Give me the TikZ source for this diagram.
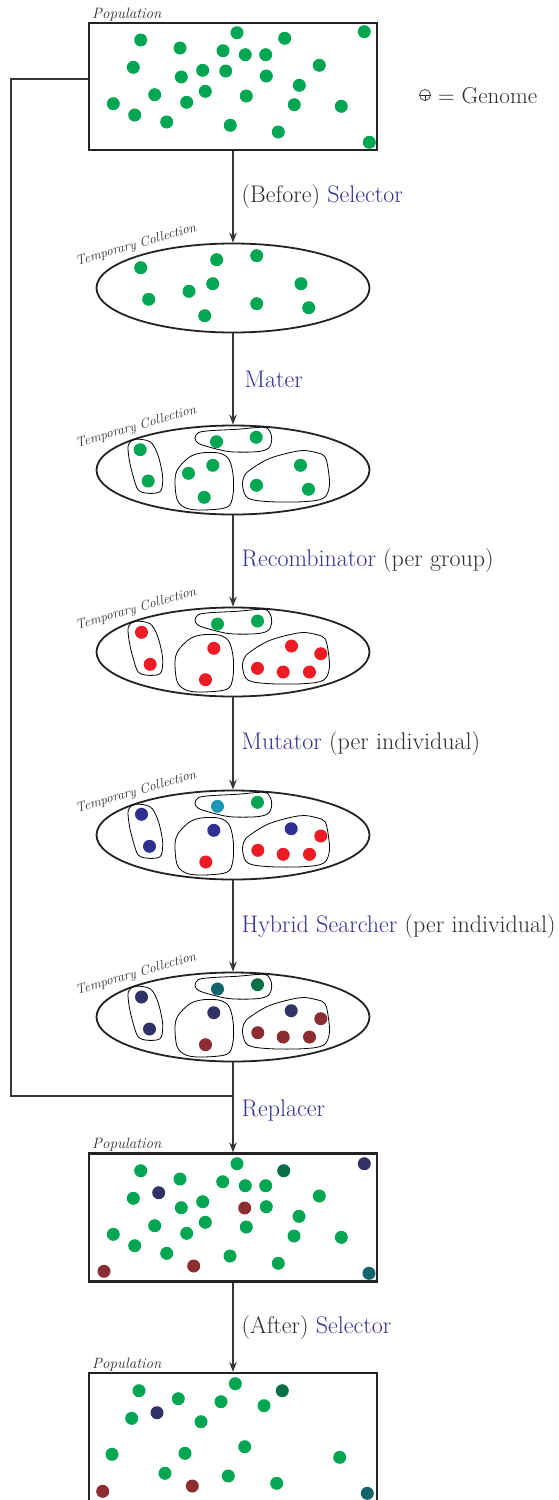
\documentclass[tikz,border=0pt]{standalone}
\usetikzlibrary{shapes.geometric,arrows.meta}

\definecolor{gr}{RGB}{0,166,81}
\definecolor{rd}{RGB}{237,28,36}
\definecolor{bl}{RGB}{46,49,146}
\definecolor{cy}{RGB}{28,150,180}
\definecolor{nv}{RGB}{50,50,105}
\definecolor{dr}{RGB}{140,45,50}
\definecolor{dt}{RGB}{20,100,110}
\definecolor{dg}{RGB}{10,110,70}
\definecolor{lbl}{RGB}{48,48,150}
\definecolor{txt}{RGB}{45,45,45}
\definecolor{edge}{RGB}{35,35,35}
\definecolor{linec}{RGB}{55,55,55}

% filled genome discs of one colour at a list of points
\newcommand\genomes[2]{\foreach \gx/\gy in {#2} \fill[#1] (\gx,\gy) circle (6.5pt);}

\begin{document}
\begin{tikzpicture}[x=1pt,y=-1pt,
  popbox/.style={draw=edge, rectangle, line width=2.2pt, minimum width=288pt, inner sep=0pt},
  tcoll/.style={draw=edge, ellipse, line width=1.8pt, minimum width=273pt, minimum height=89pt, inner sep=0pt},
  flow/.style={draw=linec, line width=1.4pt},
  arr/.style={flow, -{Stealth[length=10pt,width=7.5pt]}},
  steplabel/.style={anchor=west, inner sep=0pt, xshift=8pt, text=txt, font=\fontsize{24}{27}\selectfont},
  tag/.style={inner sep=0pt, text=txt, font=\itshape\fontsize{13.5}{14}\selectfont},
  grp/.style={draw=black, line width=0.8pt},
]
\useasboundingbox (0,0) rectangle (558,1500);
\clip (0,0) rectangle (558,1500);

% ---------- population boxes and temporary collections ----------
\node[popbox, minimum height=127pt] (pop1) at (233,86.5) {};
\node[tcoll] (tc1) at (233,288) {};
\node[tcoll] (tc2) at (233,470) {};
\node[tcoll] (tc3) at (233,652) {};
\node[tcoll] (tc4) at (233,835) {};
\node[tcoll] (tc5) at (233,1017) {};
\node[popbox, minimum height=128pt] (pop2) at (233,1217.5) {};
\node[popbox, minimum height=150pt] (pop3) at (233,1448) {};

% captions
\node[tag, anchor=base west, font=\itshape\fontsize{15}{16}\selectfont] (cap1) at (92,18) {Population};
\node[tag, anchor=base west, font=\itshape\fontsize{15}{16}\selectfont] (cap2) at (92,1148) {Population};
\node[tag, anchor=base west, font=\itshape\fontsize{15}{16}\selectfont] (cap3) at (92,1368) {Population};
\foreach \c in {1,...,5}
  \node[tag, rotate=16] (tcap\c) at ([xshift=-97pt,yshift=43pt]tc\c.center) {Temporary Collection};

% legend
\coordinate (gsym) at (425,95);
\draw[txt, line width=0.7pt] (gsym) circle (5.5pt);
\draw[txt, line width=0.7pt] ([xshift=-5.5pt]gsym) -- ([xshift=5.5pt]gsym);
\draw[txt, line width=0.7pt] (gsym) -- ([yshift=-5.5pt]gsym);
\node[anchor=west, inner sep=0pt, text=txt, font=\fontsize{23}{26}\selectfont] (genome) at (438,96) {= Genome};

% ---------- flow ----------
\draw[arr] (pop1.south) -- (tc1.north) node[midway, steplabel] {(Before) \textcolor{lbl}{Selector}};
\draw[arr] (tc1.south) -- (tc2.north) node[midway, steplabel, xshift=3pt] {\textcolor{lbl}{Mater}};
\draw[arr] (tc2.south) -- (tc3.north) node[midway, steplabel] {\textcolor{lbl}{Recombinator} (per group)};
\draw[arr] (tc3.south) -- (tc4.north) node[midway, steplabel] {\textcolor{lbl}{Mutator} (per individual)};
\draw[arr] (tc4.south) -- (tc5.north) node[midway, steplabel] {\textcolor{lbl}{Hybrid Searcher} (per individual)};
\coordinate (join) at (233,1096);
\draw[flow] ([yshift=7.5pt]pop1.west) -- ++(-77,0) |- (join);
\draw[arr] (tc5.south) -- (pop2.north) node[pos=0.53, steplabel] {\textcolor{lbl}{Replacer}};
\draw[arr] (pop2.south) -- (pop3.north) node[midway, steplabel] {(After) \textcolor{lbl}{Selector}};

% ---------- genomes: initial population ----------
\genomes{gr}{140.7/40,180/48,237/32.7,284.7/38.3,364.3/31.7,223/50.7,245.3/54.7,265.7/54.7,
  133.3/67.3,181.3/77,202.7/70.3,225.7/71,266.3/76,319.3/65.3,154.7/94.7,205.3/91.3,246.3/96,
  299.3/85.3,113.3/103.7,186.7/102.3,134.7/115,166.7/122,230.3/125.3,294.3/104.7,341.3/106.3,
  278.3/132,369.3/142.3}

% ---------- selected individuals ----------
\genomes{gr}{140.7/267.7,216.7/259.7,256.7/255.7,148.7/299.3,189/291.3,212.7/283.7,301/283.7,
  256.7/303.7,308.7/307.7,204.7/315.7}

% ---------- mating groups (same outlines in every collection) ----------
\foreach \c in {2,...,5} {
  \begin{scope}[shift={(tc\c.center)}]
    \draw[grp] plot[smooth cycle, tension=0.55] coordinates
      {(-104.7,-25) (-98,-30.7) (-83,-28.3) (-75.7,-16.7) (-71.3,0) (-70.3,11.7) (-73,21.7)
       (-84.7,23.3) (-94.7,20) (-99.7,6.7) (-103.7,-10)};
    \draw[grp] plot[smooth cycle, tension=0.55] coordinates
      {(-38,-31.7) (-34.7,-37.3) (-23,-39.3) (3.7,-40.7) (30.3,-42.7) (37,-38.3) (38.7,-30)
       (35.3,-21.7) (23.7,-18.3) (-3,-18.3) (-23,-22.7) (-34.7,-26.7)};
    \draw[grp] plot[smooth cycle, tension=0.55] coordinates
      {(-43,-13.3) (-29.7,-17.3) (-13,-16.7) (-3.7,-10) (0.3,6.7) (-0.3,26.7) (-6.3,37.3)
       (-29.7,40) (-46.3,38.3) (-55.7,30) (-58,10) (-54.7,-1.7)};
    \draw[grp] plot[smooth cycle, tension=0.55] coordinates
      {(17,0) (37,-11.7) (67,-19.3) (83.7,-17.3) (92,-13.3) (95.3,0) (96.3,16.7) (90.3,28.3)
       (70.3,31.7) (37,31.7) (15.3,28.3) (9.7,16.7) (11,6.7)};
  \end{scope}
}

% after mating
\begin{scope}[shift={(tc2.center)}]
  \genomes{gr}{-92.8/-20.3,-84.8/11,-16.5/-28.3,23.2/-32.7,-44.5/3.3,-20.2/-4.7,-28.8/27.3,
    23.5/15.3,67.5/-4.7,75.5/19.3}
\end{scope}

% after recombination
\begin{scope}[shift={(tc3.center)}]
  \genomes{gr}{-15.5/-28,24.5/-31}
  \genomes{rd}{-91.5/-19.7,-82.8/12.3,-19.2/-3.7,-27.5/27.7,58.5/-6,87.8/1.7,24.5/16.3,50.2/20,76.5/20}
\end{scope}

% after mutation
\begin{scope}[shift={(tc4.center)}]
  \genomes{bl}{-91.5/-20.7,-83.5/11.3,-19.2/-4.7,58.2/-6.3}
  \genomes{cy}{-15.5/-28.7}
  \genomes{gr}{24.5/-32.7}
  \genomes{rd}{-27.2/27,87.8/1,24.8/15.3,50.2/19.3,76.5/19.3}
\end{scope}

% after local search
\begin{scope}[shift={(tc5.center)}]
  \genomes{nv}{-91.5/-20,-83.5/12,-19.2/-4.3,58.2/-6.3}
  \genomes{dt}{-15.5/-28}
  \genomes{dg}{24.5/-32.3}
  \genomes{dr}{-27.5/27.7,87.8/1.7,24.8/15.7,50.2/20,76.5/20}
\end{scope}

% ---------- genomes: population after replacement ----------
\genomes{gr}{140.7/1170.7,180/1179,237/1163.7,222.7/1181.7,245.3/1185.7,265.7/1185.7,133.3/1198.3,
  181.3/1207.7,202.7/1201.7,266.3/1206.7,319.3/1196,154.7/1225.7,205.3/1222.3,246.3/1227,299/1216.3,
  113.3/1234.3,186.7/1233.3,134.7/1245.7,166.7/1253.3,230/1256,278.3/1263.3,294/1236,341.3/1237.3}
\genomes{dg}{283.7/1170.7}
\genomes{nv}{364.3/1163.7,158.7/1192.7}
\genomes{dr}{244.7/1208,104/1271.3,193.7/1266}
\genomes{dt}{369/1273.3}

% ---------- genomes: population after selection ----------
\genomes{gr}{139/1390.7,178.3/1398.7,235.3/1383.7,221/1401.7,264/1405.7,131.7/1418.3,201/1421.7,
  244.7/1446.7,112/1454.3,185/1453.3,165/1473.3,228.3/1476,276.7/1483.3,339.7/1457.3}
\genomes{dg}{282.3/1390.7}
\genomes{nv}{157/1412.7}
\genomes{dr}{102.7/1491.3,192.3/1486}
\genomes{dt}{367.3/1493.3}
\end{tikzpicture}
\end{document}
